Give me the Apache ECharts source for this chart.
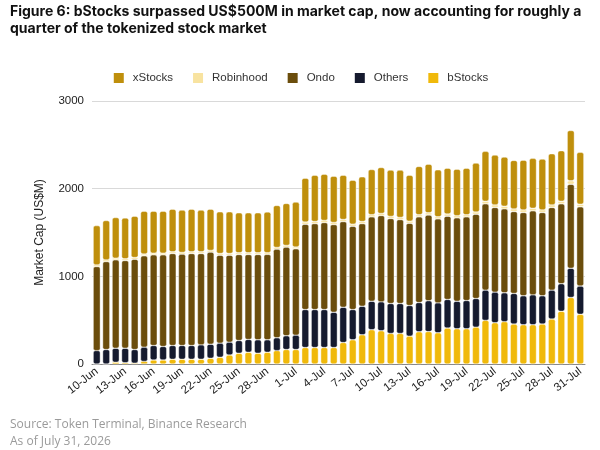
<!DOCTYPE html>
<html lang="en">
<head>
    <meta charset="UTF-8">
    <title>Tokenized stock market cap</title>
    <script src="https://cdn.jsdelivr.net/npm/echarts@6/dist/echarts.min.js"></script>
    <style>
        body { margin: 0; background: #fff; }
        #main { width: 600px; height: 450px; }
    </style>
</head>
<body>
    <div id="main"></div>
<script>
    // dates, 10-Jun .. 31-Jul
    var days = [];
    for (var d = 10; d <= 30; d++) days.push(d + '-Jun');
    for (var d = 1; d <= 31; d++) days.push(d + '-Jul');

    // values in US$M
    var bStocks = [0, 0, 20, 15, 10, 30, 46, 46, 54, 54, 54, 54, 65, 77, 103, 123, 134, 123, 134, 153,
        165, 165, 188, 188, 188, 188, 245, 276, 333, 391, 379, 349, 349, 318, 368, 370, 356, 410, 402, 402,
        421, 498, 471, 483, 456, 448, 448, 456, 513, 601, 759, 567];
    var others = [153, 165, 160, 165, 155, 162, 165, 154, 157, 157, 157, 164, 161, 161, 146, 145, 146, 153, 142, 146,
        157, 164, 433, 433, 433, 402, 402, 345, 326, 325, 330, 341, 341, 349, 333, 352, 341, 326, 314, 322,
        326, 345, 349, 329, 349, 330, 341, 322, 330, 315, 333, 322];
    var ondo = [958, 1003, 1008, 1000, 1030, 1042, 1034, 1045, 1049, 1042, 1049, 1042, 1050, 1003, 992, 981, 969, 973, 974, 1011,
        1011, 985, 973, 980, 992, 1000, 977, 950, 942, 962, 984, 969, 957, 938, 977, 978, 958, 950, 951, 954,
        962, 984, 965, 958, 934, 950, 958, 950, 942, 911, 958, 904];
    var robinhood = [20, 20, 20, 20, 20, 20, 20, 20, 20, 20, 20, 20, 20, 20, 20, 20, 20, 20, 20, 20,
        20, 20, 25, 25, 25, 25, 25, 25, 25, 25, 25, 25, 25, 25, 25, 25, 25, 25, 25, 25,
        25, 30, 30, 30, 30, 30, 30, 30, 30, 30, 40, 30];
    var xStocks = [447, 448, 462, 466, 471, 489, 478, 478, 486, 482, 486, 475, 470, 474, 474, 455, 455, 455, 464, 478,
        478, 512, 500, 527, 527, 527, 504, 500, 508, 515, 523, 527, 539, 523, 550, 554, 534, 522, 530, 530,
        557, 568, 568, 560, 553, 567, 568, 579, 583, 576, 573, 591];

    var myChart = echarts.init(document.getElementById('main'));

    function bar(name, data, color) {
        return {
            name: name,
            type: 'bar',
            stack: 'cap',
            data: data,
            barCategoryGap: '25%',
            itemStyle: { color: color, borderRadius: 2, borderColor: '#fff', borderWidth: 0.4 }
        };
    }

    var option = {
        backgroundColor: '#fff',
        title: [{
            text: 'Figure 6: bStocks surpassed US$500M in market cap, now accounting for roughly a\nquarter of the tokenized stock market',
            left: 10,
            top: 3,
            padding: 0,
            textStyle: { fontFamily: 'Inter', fontSize: 14, fontWeight: 'bold', color: '#111', lineHeight: 17 }
        }, {
            text: 'Source: Token Terminal, Binance Research\nAs of July 31, 2026',
            left: 10,
            top: 416,
            padding: 0,
            textStyle: { fontFamily: 'Open Sans', fontSize: 12, fontWeight: 'normal', color: '#9a9a9a', lineHeight: 17 }
        }],
        legend: {
            top: 66,
            left: 'center',
            itemWidth: 12,
            itemHeight: 12,
            itemGap: 18,
            icon: 'rect',
            textStyle: { fontFamily: 'Liberation Sans', fontSize: 11.5, color: '#333', padding: [0, 0, 0, 3] },
            data: ['xStocks', 'Robinhood', 'Ondo', 'Others', 'bStocks']
        },
        grid: { left: 92, right: 15, top: 101, bottom: 86 },
        xAxis: {
            type: 'category',
            data: days,
            axisTick: { show: false },
            axisLine: { lineStyle: { color: '#888' } },
            axisLabel: {
                interval: 2,
                rotate: 38,
                margin: 6,
                fontFamily: 'Liberation Sans',
                fontSize: 11.5,
                color: '#222'
            }
        },
        yAxis: {
            type: 'value',
            min: 0,
            max: 3000,
            interval: 1000,
            name: 'Market Cap (US$M)',
            nameLocation: 'middle',
            nameGap: 46,
            nameTextStyle: { fontFamily: 'Liberation Sans', fontSize: 12, color: '#222' },
            axisLabel: {
                fontFamily: 'Liberation Sans',
                fontSize: 11.5,
                color: '#222',
                margin: 8,
                formatter: function (v) { return String(v); }
            },
            splitLine: { lineStyle: { color: '#d9d9d9' } }
        },
        series: [
            bar('bStocks', bStocks, '#F0B90B'),
            bar('Others', others, '#151a2e'),
            bar('Ondo', ondo, '#6b4d0c'),
            bar('Robinhood', robinhood, '#f8e3a0'),
            bar('xStocks', xStocks, '#bf8f0c')
        ]
    };
    myChart.setOption(option);
</script>
</body>
</html>
